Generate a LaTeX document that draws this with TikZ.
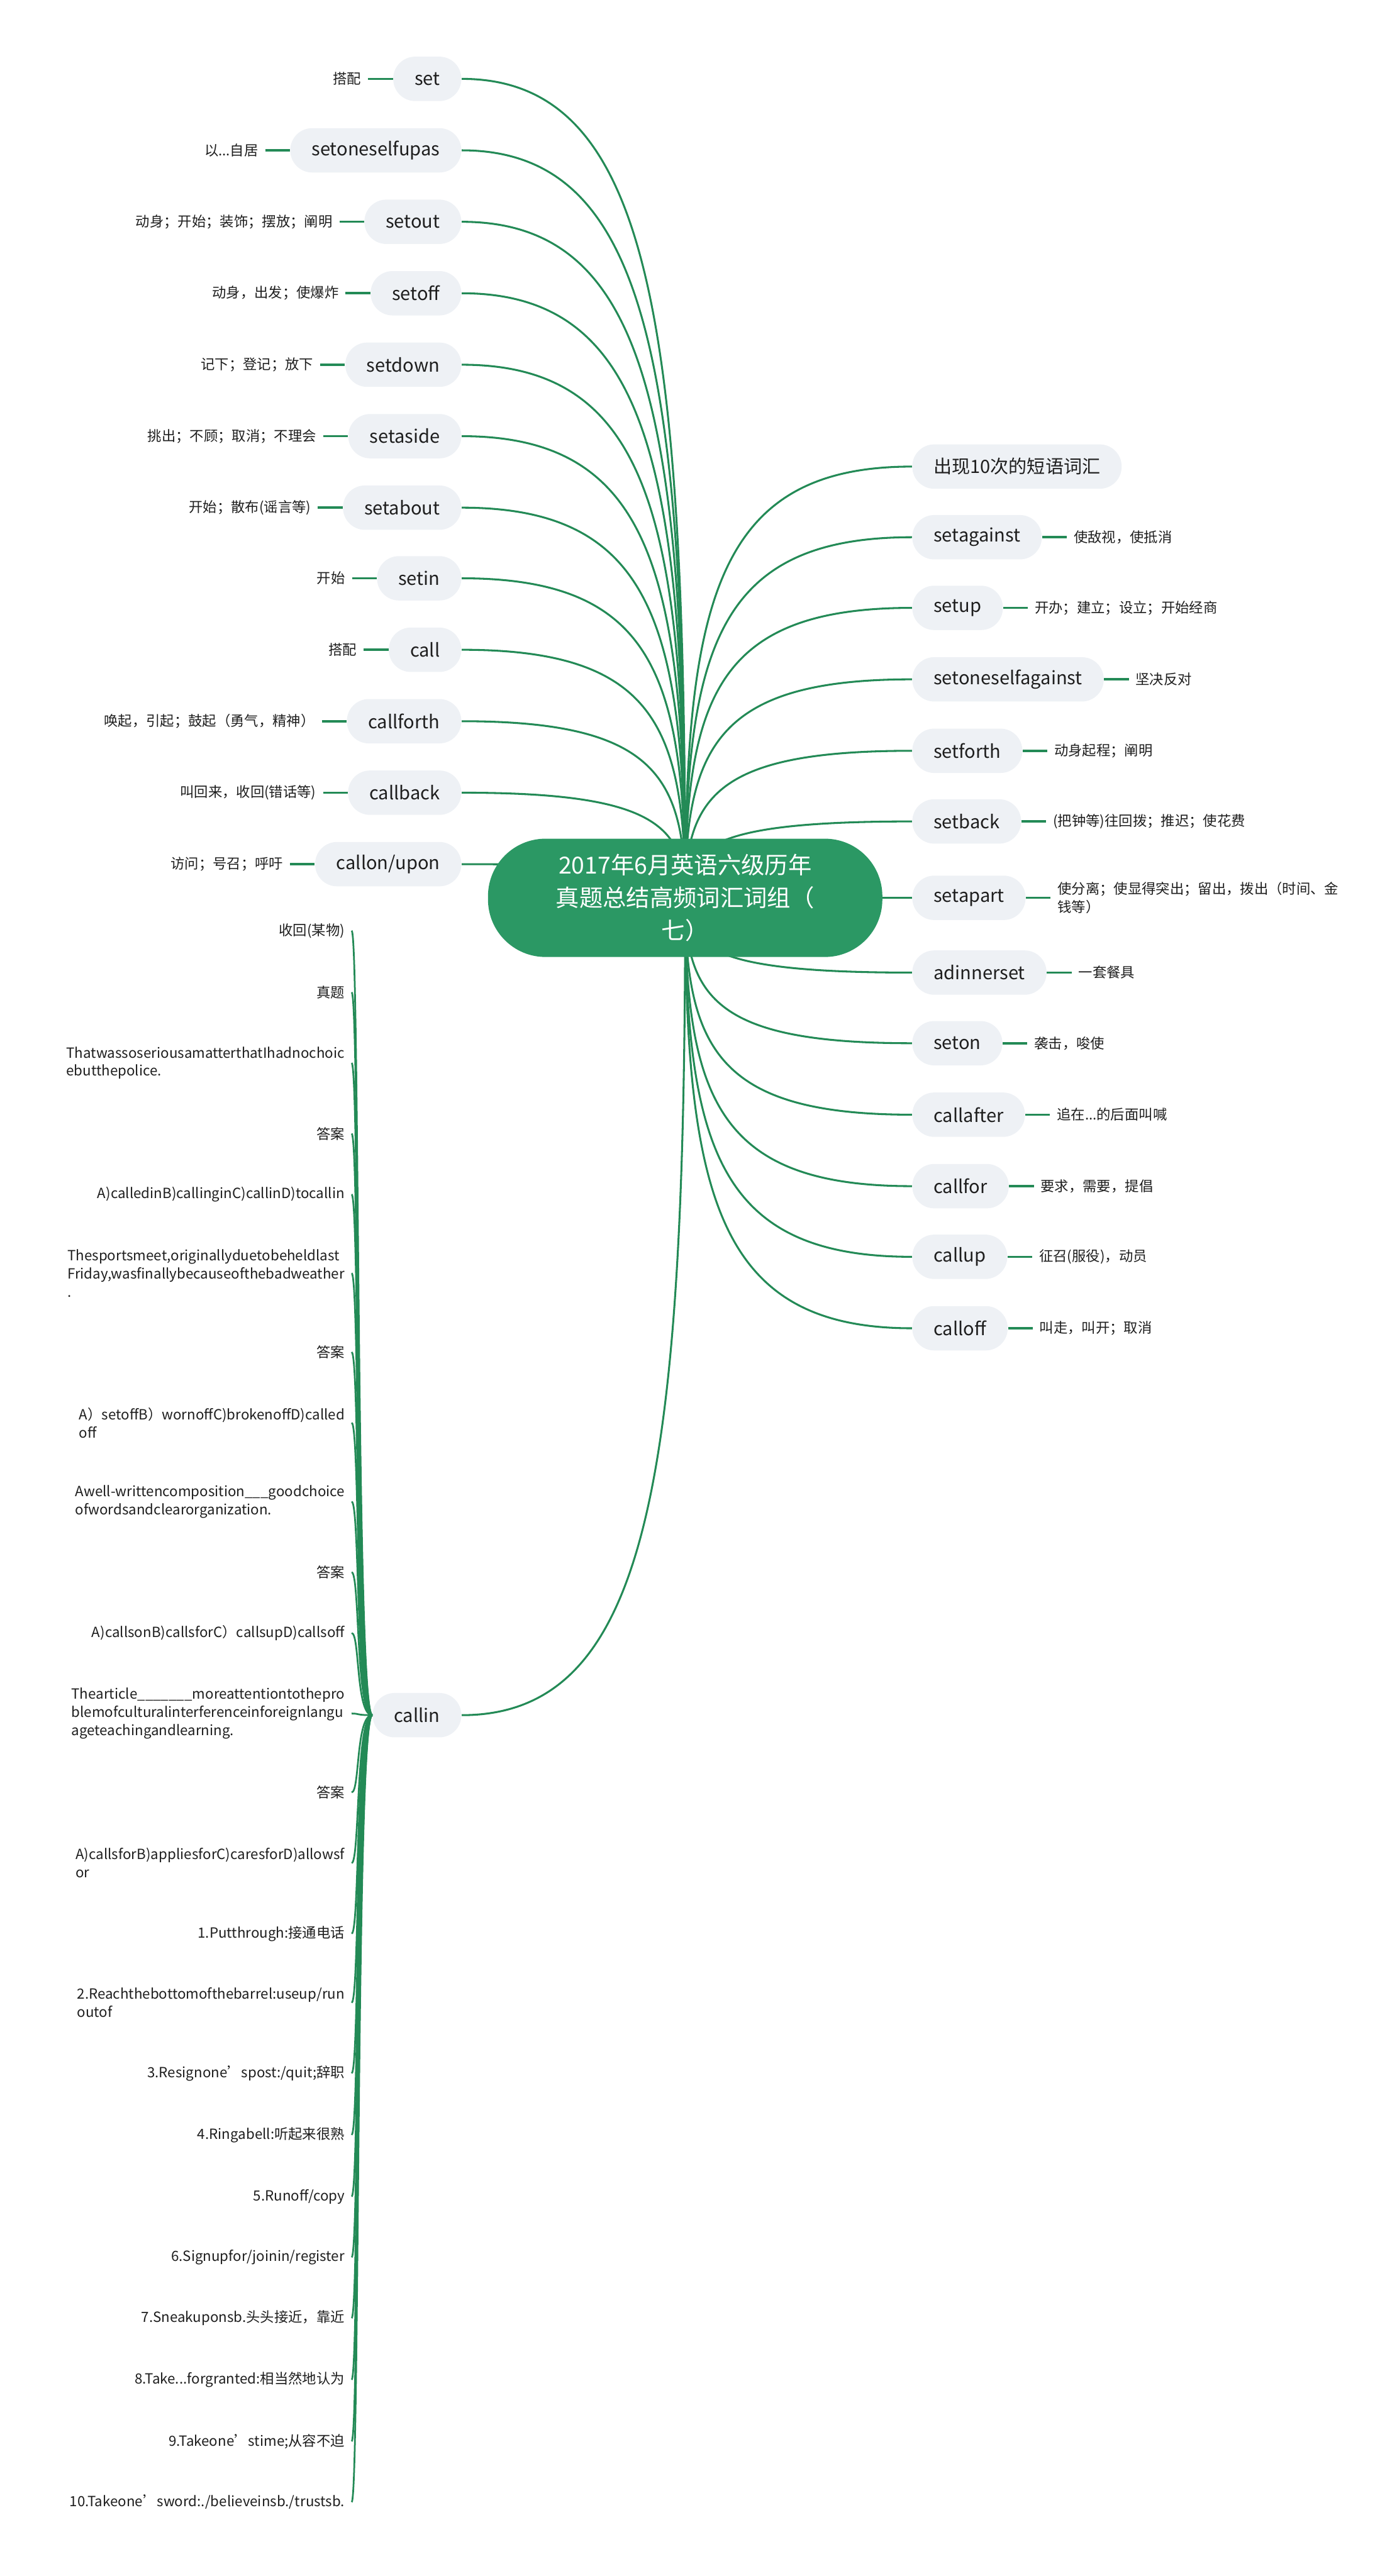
\documentclass[tikz,border=0pt]{standalone}
\usepackage{fontspec}
\setmainfont{Noto Sans CJK SC}
\usetikzlibrary{calc,backgrounds}

\definecolor{rootgreen}{RGB}{43,152,100}
\definecolor{branchgreen}{RGB}{35,138,86}
\definecolor{topicfill}{RGB}{238,241,245}
\definecolor{ink}{RGB}{30,30,30}

\begin{document}
\begin{tikzpicture}[x=0.03cm,y=-0.03cm,
    root/.style={fill=rootgreen,text=white,rounded corners=1.05cm,
      minimum width=7.2cm,minimum height=2.16cm,align=center,
      font=\fontsize{12.2}{17}\selectfont},
    topic/.style={fill=topicfill,text=ink,rounded corners=0.4cm,
      minimum height=0.81cm,inner xsep=0.39cm,font=\fontsize{9.5}{12}\selectfont},
    gloss/.style={text=ink,inner xsep=0.12cm,inner ysep=0.05cm,align=left,
      font=\fontsize{7.3}{9.4}\selectfont},
    limb/.style={draw=branchgreen,line width=1pt},
    twigline/.style={draw=branchgreen,line width=0.9pt},
    stub/.style={draw=branchgreen,line width=1.2pt},
    sprout/.style={to path={.. controls ($(\tikztostart |- \tikztotarget)!0.3!(\tikztostart)$)
      and ($(\tikztotarget)!0.85!(\tikztostart |- \tikztotarget)$) .. (\tikztotarget)}},
    twig/.style={to path={.. controls ($(\tikztostart)+(-10,0)$)
      and ($(\tikztotarget)+(5,0)$) .. (\tikztotarget)}}]
  \useasboundingbox (0,0) rectangle (850,1568);

  % Root topic
  \node[root] (root) at (417,546.5) {2017年6月英语六级历年\\真题总结高频词汇词组（\\七）};

  % Left-hand phrases with their meanings
  \foreach \i/\y/\word/\mean in {0/48/set/搭配, 1/91.5/setoneselfupas/以.{}.{}.自居,
      2/135/setout/动身；开始；装饰；摆放；阐明, 3/178.5/setoff/动身，出发；使爆炸,
      4/222/setdown/记下；登记；放下, 5/265.5/setaside/挑出；不顾；取消；不理会,
      6/309/setabout/开始；散布(谣言等), 7/352/setin/开始, 8/395.5/call/搭配,
      9/439/callforth/唤起，引起；鼓起（勇气，精神）, 10/482.5/callback/叫回来，收回(错话等),
      11/526/{callon/upon}/访问；号召；呼吁} {
    \node[topic,anchor=east] (L\i) at (281,\y) {\word};
    \node[gloss,anchor=east] (LG\i) at ($(L\i.west)+(-15,0)$) {\mean};
    \draw[stub] (LG\i.east) -- (L\i.west);
    \begin{scope}[on background layer]
      \draw[limb] (root.center) to[sprout] (L\i.east);
    \end{scope}
  }

  % Right-hand phrases with their meanings
  \node[topic,anchor=west] (R0) at (555,284) {出现10次的短语词汇};
  \begin{scope}[on background layer]
    \draw[limb] (root.center) to[sprout] (R0.west);
  \end{scope}
  \foreach \i/\y/\word/\mean in {1/327/setagainst/使敌视，使抵消,
      2/370/setup/开办；建立；设立；开始经商, 3/413.5/setoneselfagainst/坚决反对,
      4/457/setforth/动身起程；阐明, 5/500/setback/(把钟等)往回拨；推迟；使花费,
      6/546.5/setapart/{使分离；使显得突出；留出，拨出（时间、金\\钱等）},
      7/592/adinnerset/一套餐具, 8/635/seton/袭击，唆使,
      9/678.5/callafter/追在.{}.{}.的后面叫喊, 10/722/callfor/要求，需要，提倡,
      11/765/callup/征召(服役)，动员, 12/808.5/calloff/叫走，叫开；取消} {
    \node[topic,anchor=west] (R\i) at (555,\y) {\word};
    \node[gloss,anchor=west] (RG\i) at ($(R\i.east)+(15,0)$) {\mean};
    \draw[stub] (R\i.east) -- (RG\i.west);
    \begin{scope}[on background layer]
      \draw[limb] (root.center) to[sprout] (R\i.west);
    \end{scope}
  }

  % callin and its exercises
  \node[topic,anchor=east] (callin) at (281,1044) {callin};
  \begin{scope}[on background layer]
    \draw[limb] (root.center) to[sprout] (callin.east);
  \end{scope}
  \foreach \y/\txt [count=\k] in {566.5/收回(某物), 604/真题,
      647/{ThatwassoseriousamatterthatIhadnochoic\\ebutthepolice.},
      690/答案, 727/{A)calledinB)callinginC)callinD)tocallin},
      775/{Thesportsmeet,originallyduetobeheldlast\\Friday,wasfinallybecauseofthebadweather\\.},
      823/答案, 866/{A）setoffB）wornoffC)brokenoffD)called\\off},
      914/{Awell-writtencomposition\_\_\_goodchoice\\ofwordsandclearorganization.},
      957/答案, 994/{A)callsonB)callsforC）callsupD)callsoff},
      1043/{Thearticle\_\_\_\_\_\_\_moreattentiontothepro\\blemofculturalinterferenceinforeignlangu\\ageteachingandlearning.},
      1091/答案, 1134/{A)callsforB)appliesforC)caresforD)allowsf\\or},
      1177/{1.Putthrough:接通电话}, 1219/{2.Reachthebottomofthebarrel:useup/run\\outof},
      1262/{3.Resignone’spost:/quit;辞职}, 1299.5/{4.Ringabell:听起来很熟},
      1337/{5.Runoff/copy}, 1374/{6.Signupfor/joinin/register},
      1411/{7.Sneakuponsb.头头接近，靠近}, 1448.5/{8.Take.{}.{}.forgranted:相当然地认为},
      1486/{9.Takeone’stime;从容不迫}, 1523/{10.Takeone’sword:./believeinsb./trustsb.}} {
    \node[gloss,anchor=east] (C\k) at (214,\y) {\txt};
    \draw[twigline] (callin.west) to[twig] (C\k.east);
  }
\end{tikzpicture}
\end{document}
